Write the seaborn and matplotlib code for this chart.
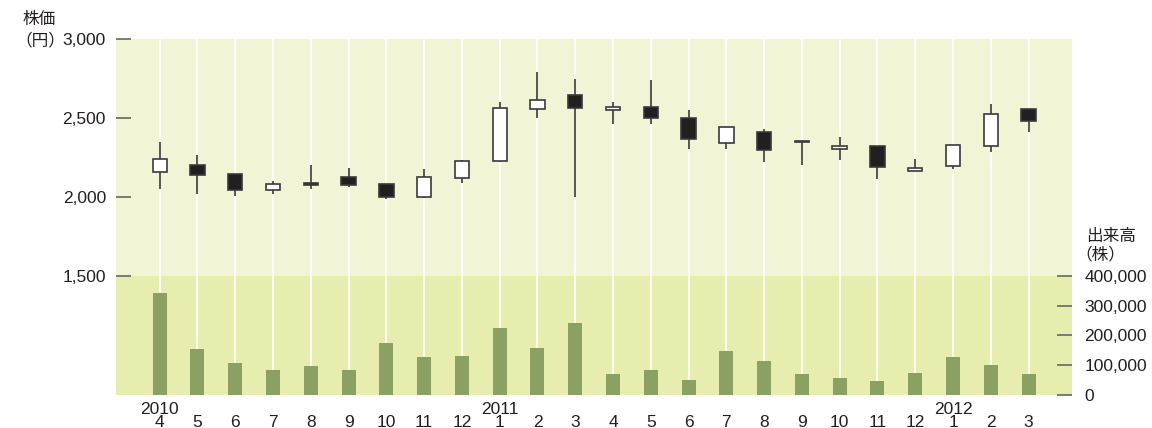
import matplotlib
matplotlib.use("Agg")
import matplotlib.pyplot as plt
import matplotlib.ticker as mticker
import numpy as np
import pandas as pd
import seaborn as sns

# monthly data, April 2010 - March 2012
months = ["4", "5", "6", "7", "8", "9", "10", "11", "12",
          "1", "2", "3", "4", "5", "6", "7", "8", "9", "10", "11", "12",
          "1", "2", "3"]
year_labels = {0: "2010", 9: "2011", 21: "2012"}

open_price = [2158, 2205, 2146, 2046, 2090, 2127, 2084, 1998, 2118, 2230, 2559, 2644,
              2550, 2568, 2502, 2340, 2411, 2352, 2306, 2325, 2165, 2198, 2325, 2555]
close_price = [2243, 2137, 2046, 2080, 2078, 2076, 2002, 2125, 2226, 2565, 2612, 2563,
               2570, 2500, 2369, 2445, 2297, 2345, 2323, 2188, 2186, 2329, 2527, 2478]
high_price = [2348, 2266, 2146, 2099, 2201, 2186, 2084, 2177, 2232, 2599, 2791, 2747,
              2599, 2741, 2549, 2445, 2428, 2352, 2378, 2325, 2239, 2329, 2589, 2555]
low_price = [2053, 2021, 2008, 2019, 2053, 2065, 1985, 1995, 2091, 2222, 2498, 2002,
             2460, 2460, 2302, 2306, 2224, 2205, 2236, 2112, 2165, 2175, 2283, 2411]
volume = [343000, 155000, 108000, 84000, 97000, 84000, 175000, 128000, 131000, 225000,
          158000, 242000, 71000, 84000, 50000, 148000, 114000, 71000, 57000, 47000,
          74000, 128000, 101000, 71000]

price_ticks = [1500, 2000, 2500, 3000]
volume_ticks = [0, 100000, 200000, 300000, 400000]

TEXT = "#231f20"
BG_TOP = "#f1f5d6"
BG_LOW = "#e7edaf"
BAR = "#8ba164"
EDGE = "#3a3a3a"

plt.rcParams["font.family"] = ["Liberation Sans", "Noto Sans CJK JP", "DejaVu Sans"]
plt.rcParams["font.size"] = 12.5
jp = ["Noto Sans CJK JP", "DejaVu Sans"]

df = pd.DataFrame({
    "pos": range(len(months)),
    "open": open_price,
    "close": close_price,
    "high": high_price,
    "low": low_price,
    "volume": volume,
})

comma = mticker.FuncFormatter(lambda v, p: f"{int(v):,}")

fig = plt.figure(figsize=(11.52, 4.28), dpi=100)
ax = fig.add_axes([116 / 1152, 33 / 428, 956 / 1152, 356 / 428])

# volume panel (right axis)
ax.set_facecolor(BG_TOP)
ax.axhspan(0, 400000, color=BG_LOW, zorder=0.2, lw=0)
sns.barplot(data=df, x="pos", y="volume", ax=ax, color=BAR, width=0.37,
            saturation=1, zorder=2)
ax.set_xlabel("")
ax.set_ylabel("")
ax.set_ylim(0, 1196600)
ax.set_xlim(-1.157, 24.15)
ax.set_axisbelow(True)
ax.set_xticks(df["pos"])
ax.set_xticklabels(months)
ax.grid(axis="x", color="white", lw=1.2)
ax.grid(axis="y", visible=False)
ax.tick_params(axis="x", length=0, pad=14.5, colors=TEXT)
for s in ax.spines.values():
    s.set_visible(False)

for i, yr in year_labels.items():
    ax.annotate(yr, xy=(i, 0), xycoords=("data", "axes fraction"),
                xytext=(0, -13.6), textcoords="offset points",
                ha="center", va="baseline", color=TEXT)

# price panel (left axis)
ax2 = ax.twinx()
ax2.patch.set_visible(False)
ax2.set_ylim(747, 3000)
ax2.set_yticks(price_ticks)
ax2.yaxis.set_major_formatter(comma)
for s in ax2.spines.values():
    s.set_visible(False)

ax.yaxis.tick_right()
ax.set_yticks(volume_ticks)
ax.yaxis.set_major_formatter(comma)
ax.tick_params(axis="y", direction="in", length=10.8, width=1.2, color="#666666",
               labelcolor=TEXT, pad=9, left=False, labelleft=False,
               right=True, labelright=True)
ax2.tick_params(axis="y", direction="in", length=10.8, width=1.2, color="#666666",
                labelcolor=TEXT, pad=7.2, left=True, labelleft=True,
                right=False, labelright=False)

up = df["close"] >= df["open"]
body_bottom = df[["open", "close"]].min(axis=1)
body_height = (df["close"] - df["open"]).abs()

ax2.vlines(df["pos"], df["low"], df["high"], color=EDGE, lw=1.2, zorder=2)
ax2.bar(df["pos"], body_height, bottom=body_bottom, width=0.38,
        color=np.where(up, "white", TEXT), edgecolor=EDGE, linewidth=1.2, zorder=3)

# axis titles
fig.text(39 / 1152, 1 - 19.5 / 428, "株価", family=jp, ha="center", va="center",
         color=TEXT, fontsize=12)
fig.text(40 / 1152, 1 - 40.5 / 428, "（円）", family=jp, ha="center", va="center",
         color=TEXT, fontsize=12)
fig.text(1086 / 1152, 1 - 237 / 428, "出来高", family=jp, ha="left", va="center",
         color=TEXT, fontsize=12)
fig.text(1100.5 / 1152, 1 - 254.5 / 428, "（株）", family=jp, ha="center", va="center",
         color=TEXT, fontsize=12)

fig.savefig("out.png", dpi=100)
